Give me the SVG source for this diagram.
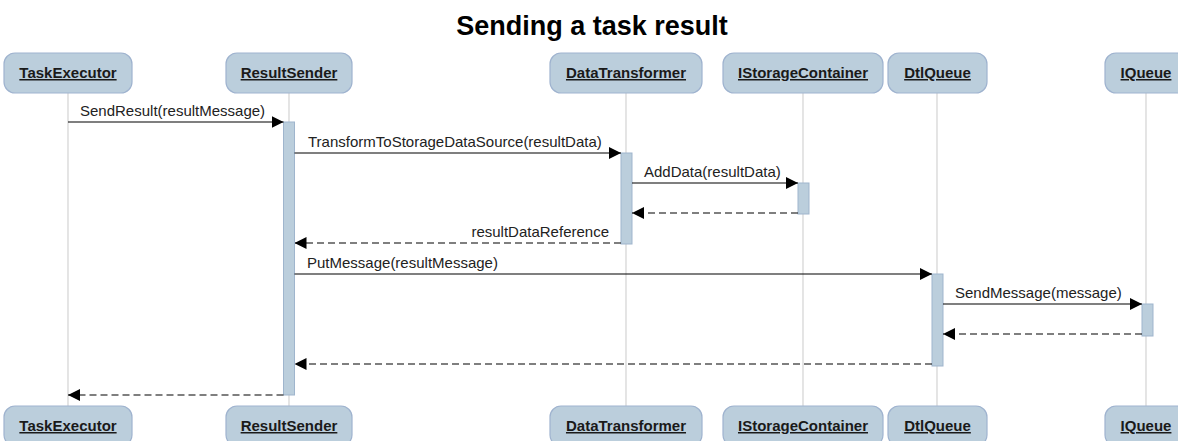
<svg xmlns="http://www.w3.org/2000/svg" width="1178" height="441" viewBox="0 0 1178 441">
  <style>
    .title { font-family: "Liberation Sans", Arial, sans-serif; font-size: 27px; font-weight: bold; fill: #000; }
    .box { fill: #bbcedc; stroke: #9fb3cf; stroke-width: 1.2; }
    .name { font-family: "Liberation Sans", Arial, sans-serif; font-size: 15px; font-weight: bold; fill: #1a1a1a; text-decoration: underline; text-anchor: middle; }
    .life { stroke: #d3d3d3; stroke-width: 1.2; fill: none; }
    .act { fill: #bbcedc; stroke: #9fb5cd; stroke-width: 1; }
    .msg { stroke: #000; stroke-width: 1.2; fill: none; }
    .ret { stroke: #000; stroke-width: 1.2; fill: none; stroke-dasharray: 7 4; }
    .lbl { font-family: "Liberation Sans", Arial, sans-serif; font-size: 15px; fill: #222; }
  </style>
  <defs>
    <marker id="head" viewBox="0 0 12 12" refX="12" refY="6" markerWidth="12" markerHeight="12" markerUnits="userSpaceOnUse" orient="auto">
      <path d="M0,0 L12,6 L0,12 Z" fill="#000"/>
    </marker>
  </defs>

  <rect width="1178" height="441" fill="#fff"/>
  <text class="title" x="592" y="35" text-anchor="middle">Sending a task result</text>

  <!-- lifelines -->
  <g id="lifelines">
    <line class="life" x1="68" y1="93" x2="68" y2="406"/>
    <line class="life" x1="289" y1="93" x2="289" y2="406"/>
    <line class="life" x1="626" y1="93" x2="626" y2="406"/>
    <line class="life" x1="803" y1="93" x2="803" y2="406"/>
    <line class="life" x1="937" y1="93" x2="937" y2="406"/>
    <line class="life" x1="1146" y1="93" x2="1146" y2="406"/>
  </g>

  <!-- participants, top and bottom -->
  <g id="TaskExecutor">
    <rect class="box" x="4" y="53" width="128" height="40" rx="11"/>
    <text class="name" x="68" y="78">TaskExecutor</text>
    <rect class="box" x="4" y="406" width="128" height="40" rx="11"/>
    <text class="name" x="68" y="431">TaskExecutor</text>
  </g>
  <g id="ResultSender">
    <rect class="box" x="226" y="53" width="126" height="40" rx="11"/>
    <text class="name" x="289" y="78">ResultSender</text>
    <rect class="box" x="226" y="406" width="126" height="40" rx="11"/>
    <text class="name" x="289" y="431">ResultSender</text>
  </g>
  <g id="DataTransformer">
    <rect class="box" x="550" y="53" width="152" height="40" rx="11"/>
    <text class="name" x="626" y="78">DataTransformer</text>
    <rect class="box" x="550" y="406" width="152" height="40" rx="11"/>
    <text class="name" x="626" y="431">DataTransformer</text>
  </g>
  <g id="IStorageContainer">
    <rect class="box" x="723" y="53" width="160" height="40" rx="11"/>
    <text class="name" x="803" y="78">IStorageContainer</text>
    <rect class="box" x="723" y="406" width="160" height="40" rx="11"/>
    <text class="name" x="803" y="431">IStorageContainer</text>
  </g>
  <g id="DtlQueue">
    <rect class="box" x="888" y="53" width="99" height="40" rx="11"/>
    <text class="name" x="937.5" y="78">DtlQueue</text>
    <rect class="box" x="888" y="406" width="99" height="40" rx="11"/>
    <text class="name" x="937.5" y="431">DtlQueue</text>
  </g>
  <g id="IQueue">
    <rect class="box" x="1105" y="53" width="82" height="40" rx="11"/>
    <text class="name" x="1146" y="78">IQueue</text>
    <rect class="box" x="1105" y="406" width="82" height="40" rx="11"/>
    <text class="name" x="1146" y="431">IQueue</text>
  </g>

  <!-- activation bars -->
  <g id="activations">
    <rect class="act" x="283.5" y="122" width="11" height="273"/>
    <rect class="act" x="621" y="153" width="11" height="91"/>
    <rect class="act" x="798" y="183" width="11" height="31"/>
    <rect class="act" x="932" y="274" width="11" height="92"/>
    <rect class="act" x="1142" y="304" width="11" height="32"/>
  </g>

  <!-- messages -->
  <g id="connectors">
    <line class="msg" x1="68" y1="122" x2="283.5" y2="122" marker-end="url(#head)"/>
    <text class="lbl" x="80" y="116">SendResult(resultMessage)</text>

    <line class="msg" x1="294.5" y1="153" x2="621" y2="153" marker-end="url(#head)"/>
    <text class="lbl" x="308" y="147">TransformToStorageDataSource(resultData)</text>

    <line class="msg" x1="632" y1="183" x2="798" y2="183" marker-end="url(#head)"/>
    <text class="lbl" x="644" y="177">AddData(resultData)</text>

    <line class="ret" x1="798" y1="213" x2="632" y2="213" marker-end="url(#head)"/>

    <line class="ret" x1="621" y1="243" x2="294.5" y2="243" marker-end="url(#head)"/>
    <text class="lbl" x="609" y="237" text-anchor="end">resultDataReference</text>

    <line class="msg" x1="294.5" y1="274" x2="932" y2="274" marker-end="url(#head)"/>
    <text class="lbl" x="307" y="268">PutMessage(resultMessage)</text>

    <line class="msg" x1="943" y1="304" x2="1142" y2="304" marker-end="url(#head)"/>
    <text class="lbl" x="955" y="298">SendMessage(message)</text>

    <line class="ret" x1="1142" y1="334" x2="943" y2="334" marker-end="url(#head)"/>

    <line class="ret" x1="932" y1="364" x2="294.5" y2="364" marker-end="url(#head)"/>

    <line class="ret" x1="283.5" y1="395" x2="68" y2="395" marker-end="url(#head)"/>
  </g>
</svg>
